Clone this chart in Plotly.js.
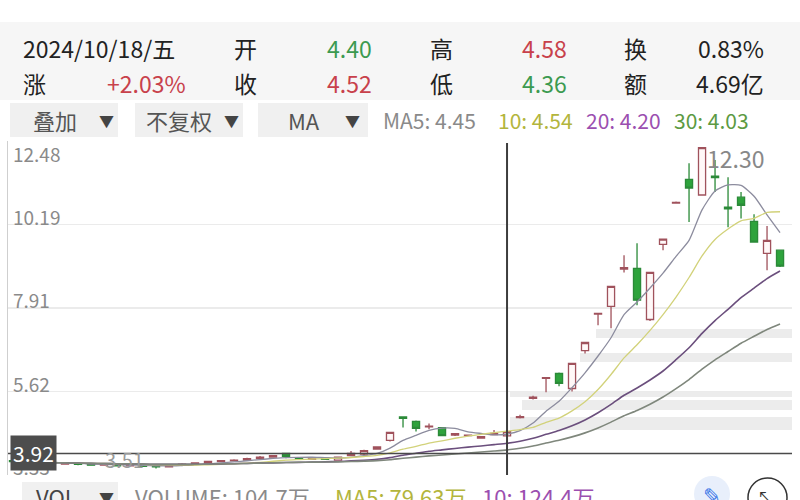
<!DOCTYPE html>
<html><head><meta charset="utf-8">
<script src="https://cdn.plot.ly/plotly-3.0.1.min.js"></script>
<style>html,body{margin:0;padding:0;background:#fff;}#chart{width:800px;height:500px;}</style>
</head><body><div id="chart"></div>
<script>
// ---- data ----
const dayIndex = Array.from({length: 60}, (_, i) => i);
const openP  = [3.72,3.70,3.68,3.65,3.63,3.64,3.62,3.60,3.62,3.58,3.60,3.57,3.55,3.60,3.63,3.66,3.70,3.72,3.74,3.78,
                3.82,3.92,3.80,3.76,3.79,3.74,3.86,3.90,4.04,4.28,4.92,4.80,4.65,4.63,4.42,4.41,4.34,4.44,4.40,4.90,
                5.43,5.98,6.11,5.70,6.74,7.74,7.95,8.97,8.99,7.59,9.65,10.78,11.43,11.00,11.52,10.67,10.94,10.28,9.40,9.49];
const highP  = [3.74,3.72,3.70,3.67,3.66,3.65,3.64,3.64,3.63,3.62,3.61,3.58,3.62,3.65,3.68,3.72,3.74,3.76,3.80,3.85,
                3.88,3.94,3.82,3.81,3.80,3.84,3.99,4.02,4.12,4.51,4.93,4.82,4.74,4.64,4.47,4.43,4.40,4.56,4.58,4.98,
                5.50,6.01,6.14,6.40,6.97,7.77,8.51,9.35,9.68,8.90,9.80,10.82,11.87,12.30,11.96,11.49,11.08,10.47,10.15,9.50];
const lowP   = [3.68,3.66,3.64,3.62,3.61,3.60,3.58,3.59,3.56,3.56,3.55,3.51,3.54,3.59,3.62,3.65,3.68,3.70,3.73,3.76,
                3.80,3.79,3.75,3.75,3.74,3.72,3.85,3.88,4.02,4.25,4.63,4.52,4.58,4.40,4.40,4.39,4.32,4.43,4.36,4.88,
                5.40,5.60,5.76,5.62,6.66,7.43,7.35,8.88,7.98,7.55,9.49,10.77,10.26,11.00,11.08,10.12,10.36,9.70,8.94,9.03];
const closeP = [3.70,3.68,3.66,3.64,3.64,3.62,3.60,3.62,3.58,3.60,3.57,3.55,3.60,3.63,3.66,3.70,3.72,3.74,3.78,3.82,
                3.86,3.84,3.77,3.79,3.76,3.82,3.92,4.00,4.10,4.50,4.88,4.61,4.67,4.41,4.46,4.42,4.38,4.47,4.52,4.93,
                5.46,6.00,5.84,6.39,6.96,7.76,8.50,9.01,8.12,8.88,9.79,10.80,11.19,12.30,11.48,10.62,10.72,9.71,9.76,9.05];
const maPeriods = [5, 10, 20, 30];
const yTickVals = [3.33, 5.62, 7.91, 10.19, 12.48];
const yTickText = ['3.33', '5.62', '7.91', '10.19', '12.48'];
const chipPrice = [7.21, 6.55, 5.54, 5.24, 4.74];
const chipShare = [0.25, 0.27, 0.36, 0.345, 0.36];
const chipThick = [0.25, 0.27, 0.14, 0.27, 0.36];
const crossIdx = 38, crossPrice = 3.92, crossLabel = '3.92';
const highIdx = 53, highLabel = '12.30';
const lowIdx = 11, lowLabel = '3.51';
const dateText = '2024/10/18/五';
const changeLabel = '涨', changeValue = '+2.03%';
const infoLabels = ['开', '高', '换', '收', '低', '额'];
const infoValues = ['4.40', '4.58', '0.83%', '4.52', '4.36', '4.69亿'];
const buttonLabels = ['叠加', '不复权', 'MA'];
const maLegend = ['MA5: 4.45', '10: 4.54', '20: 4.20', '30: 4.03'];
const volButton = 'VOL';
const volLegend = ['VOLUME: 104.7万', 'MA5: 79.63万', '10: 124.4万'];

// ---- geometry / styles ----
const L = 8, R = 792, T = 141, B = 475, W = R - L, H = B - T;
const px = x => (x - L) / W;
const py = y => (B - y) / H;
const xMin = -0.385, xMax = 59.92;
const FONT = '"Noto Sans CJK SC", "Noto Sans", sans-serif';
const RED = '#c8414b', GREEN = '#3c9a50', DARK = '#222';
const maColors = ['#8c8c9e', '#d2d27a', '#6b4f7d', '#7f877c'];
const maLegendColors = ['#8a8a8a', '#b3b53c', '#9b4fb0', '#5c9a42'];
const volLegendColors = ['#8a8a8a', '#b3b53c', '#9b4fb0'];

function movingAvg(vals, n) {
  return vals.map((_, i) => {
    const s = Math.max(0, i - n + 1);
    const w = vals.slice(s, i + 1);
    return w.reduce((a, b) => a + b, 0) / w.length;
  });
}

const traces = [];
traces.push({
  type: 'bar', orientation: 'h', y: chipPrice,
  x: chipShare.map(s => -s * (xMax - xMin)), base: chipShare.map(() => xMax),
  width: chipThick, marker: {color: '#ececec', line: {width: 0}}, hoverinfo: 'skip', showlegend: false
});
traces.push({
  type: 'candlestick', x: dayIndex, open: openP, high: highP, low: lowP, close: closeP,
  increasing: {line: {color: '#a0525c', width: 1.3}, fillcolor: '#fff8f8'},
  decreasing: {line: {color: '#2b8a38', width: 1.3}, fillcolor: '#2ea33c'},
  whiskerwidth: 0, hoverinfo: 'skip', showlegend: false
});
maPeriods.forEach((n, k) => {
  traces.push({
    type: 'scatter', mode: 'lines', x: dayIndex, y: movingAvg(closeP, n),
    line: {color: maColors[k], width: k >= 2 ? 1.6 : 1.3, shape: 'spline', smoothing: 0.6},
    hoverinfo: 'skip', showlegend: false
  });
});

const shapes = [
  {type: 'rect', xref: 'paper', yref: 'paper', x0: px(0), x1: px(800), y0: py(100), y1: py(22),
   fillcolor: '#f6f6f6', line: {width: 0}, layer: 'below'},
  {type: 'line', xref: 'x', yref: 'paper', x0: crossIdx, x1: crossIdx, y0: 0, y1: py(143),
   line: {color: '#3d3d3d', width: 2}},
  {type: 'line', xref: 'paper', yref: 'y', x0: 0, x1: 1, y0: crossPrice, y1: crossPrice,
   line: {color: '#4a4a4a', width: 1.6}}
];
const btnBoxes = [[10, 118], [135, 243], [258, 368]];
btnBoxes.forEach(([a, b]) => shapes.push({type: 'rect', xref: 'paper', yref: 'paper',
  x0: px(a), x1: px(b), y0: py(137), y1: py(103), fillcolor: '#f0f0f0', line: {width: 0}, layer: 'below'}));
shapes.push({type: 'rect', xref: 'paper', yref: 'paper', x0: px(22), x1: px(118), y0: py(510), y1: py(482),
  fillcolor: '#f0f0f0', line: {width: 0}, layer: 'below'});
shapes.push({type: 'circle', xref: 'paper', yref: 'paper', x0: px(694), x1: px(730), y0: py(512), y1: py(476),
  fillcolor: '#e8effb', line: {width: 0}});
shapes.push({type: 'circle', xref: 'paper', yref: 'paper', x0: px(748), x1: px(787), y0: py(517), y1: py(478),
  fillcolor: 'rgba(0,0,0,0)', line: {color: '#333', width: 1.5}});

const ann = [];
function txt(text, x, y, size, color, anchor, extra) {
  ann.push(Object.assign({text, xref: 'paper', yref: 'paper', x: px(x), y: py(y), xanchor: anchor || 'left',
    yanchor: 'middle', showarrow: false, font: {family: FONT, size, color}}, extra || {}));
}
// header rows
txt(dateText, 21, 48, 23, DARK);
txt(changeLabel, 21, 83, 23, DARK);
txt(changeValue, 188, 83, 23, RED, 'right');
const infoX = [232, 428, 622], valX = [374, 569, 766];
const valColors = [GREEN, RED, DARK, RED, GREEN, DARK];
infoLabels.forEach((t, i) => {
  const row = i < 3 ? 48 : 83, col = i % 3;
  txt(t, infoX[col], row, 23, DARK);
  txt(infoValues[i], valX[col], row, 23, valColors[i], 'right');
});
// buttons
const btnTextX = [31, 144, 286];
const arrowX = [106, 231, 352];
buttonLabels.forEach((t, i) => {
  txt(t, btnTextX[i], 120, 22, '#555');
  txt('▼', arrowX[i], 121, 15, '#444', 'center');
});
const maX = [381, 496, 584, 672];
maLegend.forEach((t, i) => txt(t, maX[i], 120, 21, maLegendColors[i]));
// y tick labels
yTickVals.forEach((v, i) => {
  const shift = i === yTickVals.length - 1 ? -12 : (i === 0 ? 9 : 8);
  ann.push({text: yTickText[i], xref: 'paper', yref: 'y', x: px(11), y: v, yshift: shift,
    xanchor: 'left', yanchor: 'middle', showarrow: false, font: {family: FONT, size: 19, color: '#8a8a8a'}});
});
// high / low markers
ann.push({text: highLabel, xref: 'x', yref: 'y', x: highIdx, y: highP[highIdx], xshift: 3, yshift: -10,
  xanchor: 'left', yanchor: 'middle', showarrow: false, font: {family: FONT, size: 23, color: '#888'}});
ann.push({text: lowLabel, xref: 'x', yref: 'y', x: lowIdx, y: lowP[lowIdx], xshift: -10, yshift: 9,
  xanchor: 'right', yanchor: 'middle', showarrow: false, font: {family: FONT, size: 20, color: '#9a9a9a'}});
// crosshair price box
ann.push({text: crossLabel, xref: 'paper', yref: 'y', x: px(10), y: crossPrice, xanchor: 'left', yanchor: 'middle',
  showarrow: false, bgcolor: '#4d4d4d', borderpad: 2, font: {family: FONT, size: 21, color: '#fff'}});
// bottom volume row
txt(volButton, 34, 496, 22, '#444');
txt('▼', 106, 497, 15, '#444', 'center');
const volX = [133, 333, 480];
volLegend.forEach((t, i) => txt(t, volX[i], 496, 22, volLegendColors[i]));
txt('✎', 712, 494, 22, '#3b78e7', 'center');
txt('⤡', 767, 497, 20, '#333', 'center');

const layout = {
  width: 800, height: 500, paper_bgcolor: '#fff', plot_bgcolor: '#fff',
  margin: {l: L, r: 800 - R, t: T, b: 500 - B, pad: 0},
  showlegend: false, bargap: 0, boxgap: 0.22,
  xaxis: {range: [xMin, xMax], showgrid: false, showticklabels: false, zeroline: false, showline: false,
          ticks: '', rangeslider: {visible: false}, fixedrange: true},
  yaxis: {range: [yTickVals[0], yTickVals[yTickVals.length - 1]], tickvals: yTickVals, showticklabels: false,
          showgrid: true, gridcolor: '#ebebeb', gridwidth: 1.5, zeroline: false, showline: true,
          linecolor: '#cfcfcf', linewidth: 1.5, ticks: '', fixedrange: true},
  shapes, annotations: ann
};
Plotly.newPlot('chart', traces, layout, {displayModeBar: false, staticPlot: true});
</script></body></html>
